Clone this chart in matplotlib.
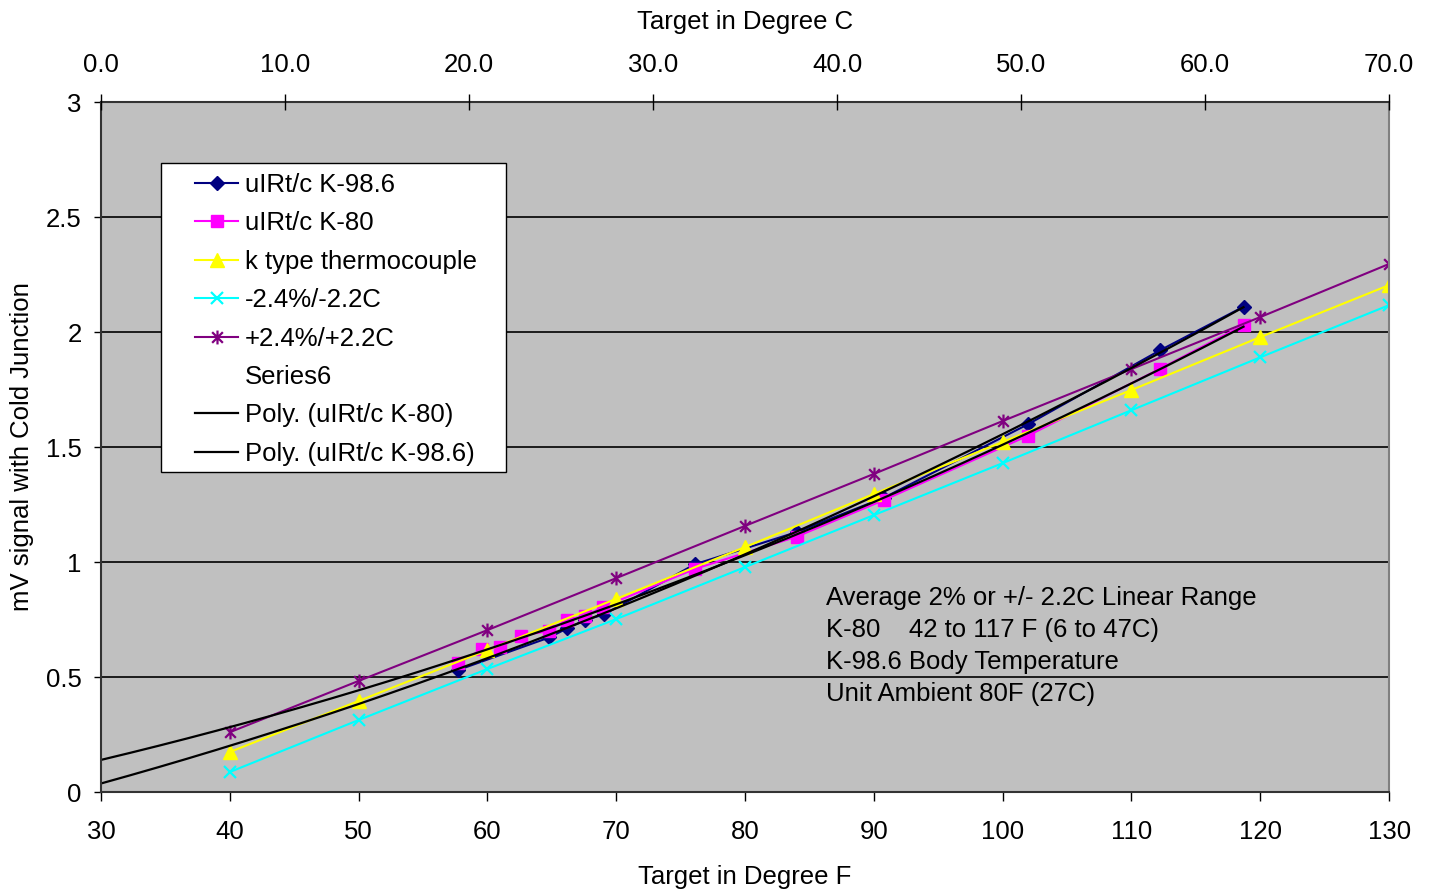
import numpy as np
import matplotlib.pyplot as plt
from matplotlib.path import Path
from matplotlib.patches import Rectangle

plt.rcParams['font.family'] = ['Liberation Sans', 'DejaVu Sans']

## readings
k986_f = [57.7, 64.8, 66.2, 67.6, 69.05, 76.1, 84.0, 90.8, 102.0, 112.2, 118.7]
k986_mv = [0.53, 0.672, 0.712, 0.748, 0.772, 0.99, 1.13, 1.28, 1.60, 1.92, 2.11]

k80_f = [57.7, 59.55, 61.0, 62.6, 64.8, 66.2, 67.6, 69.0, 76.1, 84.0, 90.8, 102.0, 112.2, 118.7]
k80_mv = [0.56, 0.62, 0.63, 0.68, 0.70, 0.75, 0.765, 0.805, 0.97, 1.11, 1.27, 1.55, 1.84, 2.03]

ref_f = [40, 50, 60, 70, 80, 90, 100, 110, 120, 130]
ktype_mv = [0.174, 0.396, 0.617, 0.840, 1.065, 1.296, 1.522, 1.748, 1.978, 2.204]
low_mv = [0.087, 0.313, 0.535, 0.752, 0.978, 1.204, 1.430, 1.660, 1.890, 2.117]
high_mv = [0.260, 0.483, 0.704, 0.930, 1.157, 1.383, 1.613, 1.839, 2.065, 2.296]

notes = ['Average 2% or +/- 2.2C Linear Range',
         'K-80    42 to 117 F (6 to 47C)',
         'K-98.6 Body Temperature',
         'Unit Ambient 80F (27C)']

# excel style star marker (x with a vertical bar)
star = Path([(-1, -1), (1, 1), (-1, 1), (1, -1), (0, -1.3), (0, 1.3)],
            [Path.MOVETO, Path.LINETO, Path.MOVETO, Path.LINETO, Path.MOVETO, Path.LINETO])

fs = 18.5
fig = plt.figure(figsize=(14.31, 8.92), dpi=100)
ax = fig.add_axes([0.0706, 0.1121, 0.9001, 0.7735])
ax.set_facecolor('#C0C0C0')

lw = 1.5
ax.plot(k986_f, k986_mv, color='#000080', lw=lw, marker='D', ms=7, label='uIRt/c K-98.6')
ax.plot(k80_f, k80_mv, color='#FF00FF', lw=lw, marker='s', ms=9, label='uIRt/c K-80')
ax.plot(ref_f, ktype_mv, color='#FFFF00', lw=lw, marker='^', ms=10, label='k type thermocouple')
ax.plot(ref_f, low_mv, color='#00FFFF', lw=lw, marker='x', ms=9, mew=1.6, label='-2.4%/-2.2C')
ax.plot(ref_f, high_mv, color='#800080', lw=lw, marker=star, ms=10, mew=1.6, label='+2.4%/+2.2C')
ax.plot([], [], color='none', label='Series6')

# 2nd order trendlines, forecast back to 30 F
for fx, fy, name in [(k80_f, k80_mv, 'Poly. (uIRt/c K-80)'),
                     (k986_f, k986_mv, 'Poly. (uIRt/c K-98.6)')]:
    c = np.polyfit(fx, fy, 2)
    xs = np.linspace(30, max(fx), 200)
    ax.plot(xs, np.polyval(c, xs), color='black', lw=1.6, label=name)

ax.set_xlim(30, 130)
ax.set_ylim(0, 3)
ax.set_xticks(np.arange(30, 131, 10))
ax.set_yticks(np.arange(0, 3.01, 0.5))
ax.set_yticklabels(['0', '0.5', '1', '1.5', '2', '2.5', '3'])
ax.yaxis.grid(True, color='black', lw=1.2)
ax.set_axisbelow(True)

for s in ['left', 'bottom', 'top']:
    ax.spines[s].set_color('#333333')
    ax.spines[s].set_linewidth(1.5)
ax.spines['right'].set_color('#808080')
ax.spines['right'].set_linewidth(1.5)

ax.tick_params(axis='x', direction='out', length=6.5, width=1, pad=14, labelsize=fs)
ax.tick_params(axis='y', direction='out', length=5, width=1, pad=9, labelsize=fs)
ax.set_xlabel('Target in Degree F', fontsize=fs, labelpad=14.5)
ax.set_ylabel('mV signal with Cold Junction', fontsize=fs, labelpad=8.5)

# top axis in degree C
axc = ax.twiny()
axc.set_xlim(0, 70)
axc.set_xticks(np.arange(0, 71, 10))
axc.set_xticklabels(['%.1f' % t for t in np.arange(0, 71, 10)])
axc.tick_params(axis='x', direction='inout', length=12, width=1, pad=12, labelsize=fs)
axc.set_xlabel('Target in Degree C', fontsize=fs, labelpad=17.5)
for s in axc.spines.values():
    s.set_visible(False)

for i, t in enumerate(notes):
    ax.text(86.3, 0.843 - i * 0.1395, t, fontsize=fs, va='center', ha='left')

# legend box drawn separately so the padding matches
ax.add_patch(Rectangle((0.0466, 0.4638), 0.2678, 0.4478, transform=ax.transAxes,
                       facecolor='white', edgecolor='black', lw=1.0, zorder=4.9))
leg = ax.legend(loc='upper left', bbox_to_anchor=(0.073, 0.8971), fontsize=fs,
                frameon=False, handlelength=1.67, handletextpad=0.27,
                labelspacing=0.56, borderpad=0, borderaxespad=0)

fig.savefig('out.png', dpi=100)
